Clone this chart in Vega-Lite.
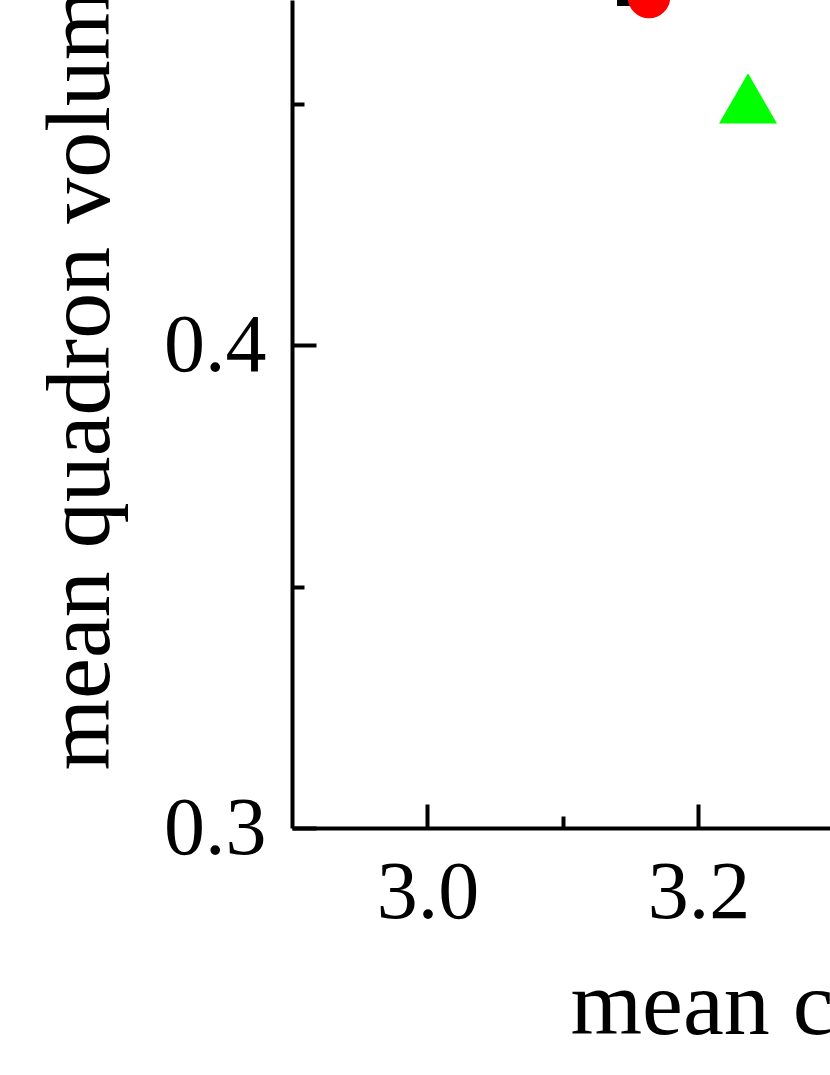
{
  "$schema": "https://vega.github.io/schema/vega-lite/v6.json",
  "width": 538,
  "height": 828,
  "autosize": {"type": "none"},
  "padding": {"left": 292, "top": 0, "right": 0, "bottom": 247},
  "background": "white",
  "config": {"view": {"stroke": null}, "font": "Liberation Serif"},
  "data": {
    "values": [
      {"series": "A", "cn": 3.1554, "vol": 0.47453},
      {"series": "B", "cn": 3.16347, "vol": 0.47205},
      {"series": "C", "cn": 3.23653, "vol": 0.45104}
    ]
  },
  "layer": [
    {
      "mark": {"type": "point", "opacity": 0},
      "encoding": {
        "x": {
          "field": "cn", "type": "quantitative",
          "scale": {"domain": [2.9, 3.29705], "nice": false, "zero": false},
          "axis": {"orient": "bottom", "values": [3.1], "labels": false, "domain": false, "grid": false, "title": null, "tickSize": -12, "tickWidth": 4, "tickColor": "black"}
        },
        "y": {
          "field": "vol", "type": "quantitative",
          "scale": {"domain": [0.3, 0.471429], "nice": false, "zero": false},
          "axis": {"orient": "left", "values": [0.35, 0.45], "labels": false, "domain": false, "grid": false, "title": null, "tickSize": -12, "tickWidth": 4, "tickColor": "black"}
        }
      }
    },
    {
      "transform": [{"filter": "datum.series == 'A'"}],
      "mark": {"type": "point", "shape": "square", "filled": true, "fill": "black", "stroke": null, "size": 1764, "opacity": 1},
      "encoding": {
        "x": {
          "field": "cn", "type": "quantitative",
          "scale": {"domain": [2.9, 3.29705], "nice": false, "zero": false},
          "axis": {"orient": "bottom", "values": [3.0, 3.2], "format": ".1f", "grid": false,
            "tickSize": -24, "tickWidth": 4, "tickColor": "black",
            "domainColor": "black", "domainWidth": 4,
            "labelFont": "Liberation Serif", "labelFontSize": 82, "labelColor": "black", "labelPadding": 48, "labelFlush": false, "labelOverlap": false,
            "title": "mean coordination number", "titleFont": "Liberation Serif", "titleFontSize": 92, "titleFontWeight": "normal", "titleColor": "black",
            "titleAlign": "left", "titleBaseline": "alphabetic", "titleX": 278, "titleY": 205}
        },
        "y": {
          "field": "vol", "type": "quantitative",
          "scale": {"domain": [0.3, 0.471429], "nice": false, "zero": false},
          "axis": {"orient": "left", "values": [0.3, 0.4], "format": ".1f", "grid": false,
            "tickSize": -24, "tickWidth": 4, "tickColor": "black",
            "domainColor": "black", "domainWidth": 4,
            "labelFont": "Liberation Serif", "labelFontSize": 82, "labelColor": "black", "labelPadding": 50, "labelFlush": false, "labelOverlap": false,
            "title": "mean quadron volume", "titleFont": "Liberation Serif", "titleFontSize": 92, "titleFontWeight": "normal", "titleColor": "black",
            "titleAngle": -90, "titleAlign": "left", "titleBaseline": "alphabetic", "titleX": -184, "titleY": 770}
        }
      }
    },
    {
      "transform": [{"filter": "datum.series == 'B'"}],
      "mark": {"type": "point", "shape": "circle", "filled": true, "fill": "#ff0000", "stroke": null, "size": 1810, "opacity": 1},
      "encoding": {
        "x": {"field": "cn", "type": "quantitative", "scale": {"domain": [2.9, 3.29705], "nice": false, "zero": false}, "axis": null},
        "y": {"field": "vol", "type": "quantitative", "scale": {"domain": [0.3, 0.471429], "nice": false, "zero": false}, "axis": null}
      }
    },
    {
      "transform": [{"filter": "datum.series == 'C'"}],
      "mark": {"type": "point", "shape": "triangle-up", "filled": true, "fill": "#00ff00", "stroke": null, "size": 3364, "opacity": 1},
      "encoding": {
        "x": {"field": "cn", "type": "quantitative", "scale": {"domain": [2.9, 3.29705], "nice": false, "zero": false}, "axis": null},
        "y": {"field": "vol", "type": "quantitative", "scale": {"domain": [0.3, 0.471429], "nice": false, "zero": false}, "axis": null}
      }
    }
  ],
  "resolve": {"axis": {"x": "independent", "y": "independent"}}
}
